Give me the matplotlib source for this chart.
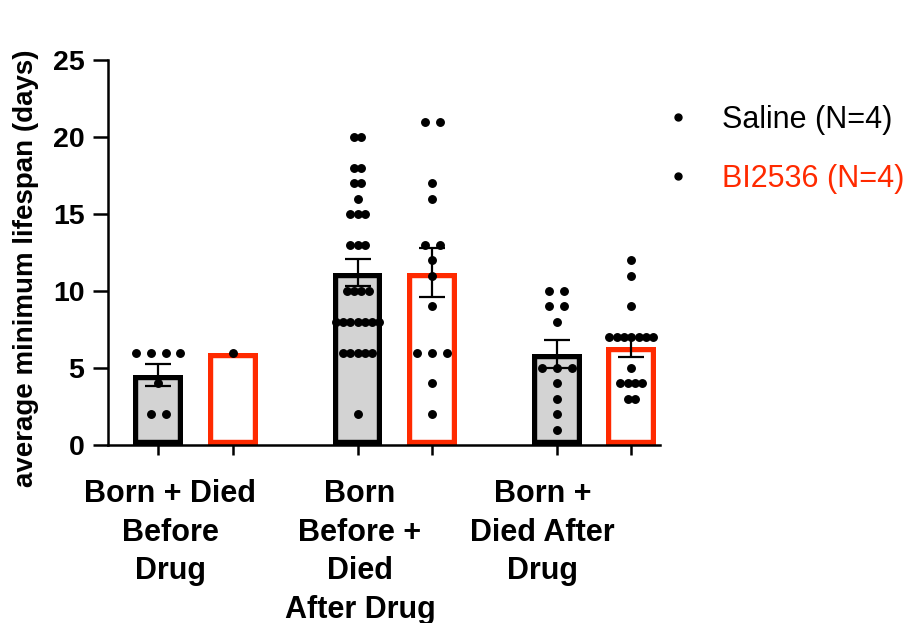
import numpy as np
import matplotlib
matplotlib.use('Agg')
import matplotlib.pyplot as plt
from matplotlib.lines import Line2D

plt.rcParams['font.family'] = ['Liberation Sans', 'DejaVu Sans']

RED = '#FF2A00'
GREY = '#D3D3D3'

groups = ['Born + Died\nBefore\nDrug', 'Born\nBefore +\nDied\nAfter Drug', 'Born +\nDied After\nDrug']

# individual points per group (days)
saline_pts = [
    [6, 6, 6, 6, 4, 2, 2],
    [20, 20, 18, 18, 17, 17, 16, 15, 15, 15, 13, 13, 13, 10, 10, 10, 10,
     8, 8, 8, 8, 8, 8, 8, 6, 6, 6, 6, 6, 2],
    [10, 10, 9, 9, 8, 5, 5, 5, 4, 3, 2, 1],
]
bi_pts = [
    [6],
    [21, 21, 17, 16, 13, 13, 12, 11, 9, 6, 6, 6, 4, 2],
    [12, 11, 9, 7, 7, 7, 7, 7, 7, 7, 5, 4, 4, 4, 4, 3, 3],
]

saline_mean = [4.55, 11.2, 5.9]
saline_sem = [0.72, 0.85, 0.9]
bi_mean = [6.0, 11.2, 6.35]
bi_sem = [0.0, 1.6, 0.63]

fig = plt.figure(figsize=(9.09, 6.23), dpi=100)
ax = fig.add_axes([0.1188, 0.2857, 0.607, 0.618])

x = np.arange(len(groups))
off = 0.187
width = 0.25


def draw_bars(xs, means, face, edge):
    for xi, m in zip(xs, means):
        b = ax.bar(xi, m, width, color=face, edgecolor=edge, linewidth=7.5, zorder=2)[0]
        b.set_clip_path(b)  # keep border inside the bar


def draw_points(xs, pts):
    for xi, vals in zip(xs, pts):
        vals = np.array(vals)
        uniq, counts = np.unique(vals, return_counts=True)
        step = min(0.075, 0.22 / max(counts.max() - 1, 1))
        for v, n in zip(uniq, counts):
            px = xi + (np.arange(n) - (n - 1) / 2) * step
            ax.plot(px, [v] * n, 'o', color='black', markersize=5.4, zorder=4)


draw_bars(x - off, saline_mean, GREY, 'black')
draw_bars(x + off, bi_mean, 'white', RED)
draw_points(x - off, saline_pts)
draw_points(x + off, bi_pts)

for xs, m, s in [(x - off, saline_mean, saline_sem), (x + off, bi_mean, bi_sem)]:
    for xi, mi, si in zip(xs, m, s):
        if si > 0:
            ax.errorbar(xi, mi, yerr=si, color='black', lw=1.6, capsize=9.5,
                        capthick=1.6, zorder=5)

ax.set_xlim(-0.44, 2.33)
ax.set_ylim(0, 25)
ax.set_yticks([0, 5, 10, 15, 20, 25])

ax.set_xticks(np.concatenate([x - off, x + off]))
ax.set_xticklabels([])
ax.tick_params(axis='x', which='major', length=7, width=1.8, direction='out')
ax.set_xticks([-0.128, 0.825, 1.742], minor=True)
ax.set_xticklabels(groups, minor=True, fontsize=22, fontweight='bold', linespacing=1.37)
ax.tick_params(axis='x', which='minor', length=0, pad=24.5)

ax.tick_params(axis='y', length=11, width=1.8, pad=6, labelsize=20.5)
for lab in ax.get_yticklabels():
    lab.set_fontweight('bold')

ax.set_ylabel('average minimum lifespan (days)', fontsize=20, fontweight='bold')
ax.yaxis.set_label_coords(-0.125, 0.46)

for sp in ['top', 'right']:
    ax.spines[sp].set_visible(False)
for sp in ['left', 'bottom']:
    ax.spines[sp].set_linewidth(1.8)

handles = [Line2D([], [], marker='o', ls='', color='black', markersize=5),
           Line2D([], [], marker='o', ls='', color='black', markersize=5)]
fig.legend(handles, ['Saline (N=4)', 'BI2536 (N=4)'], loc='upper left',
           bbox_to_anchor=(0.7025, 0.876), frameon=False, fontsize=22,
           handlelength=0.8, handletextpad=1.04, labelspacing=0.95,
           labelcolor=['black', RED])

fig.savefig('out.png', dpi=100)
